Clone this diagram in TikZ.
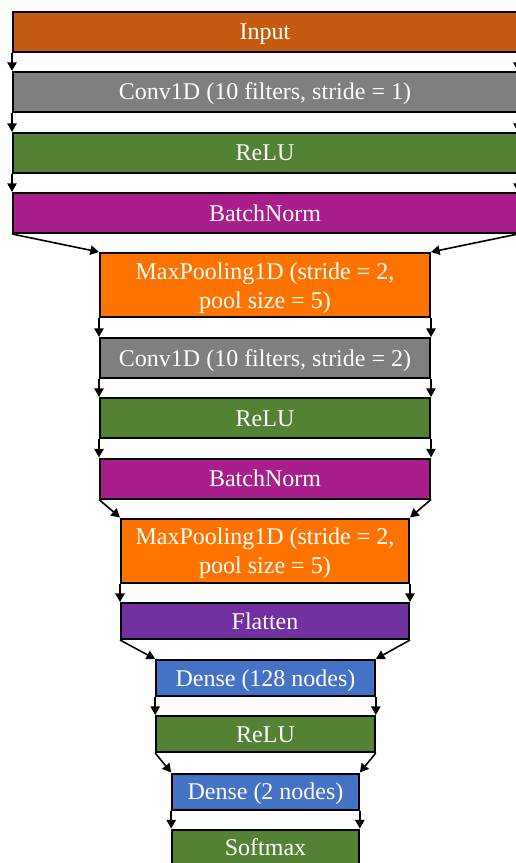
\documentclass[tikz,border=0pt]{standalone}
\usepackage{fontspec}
\setmainfont{Liberation Serif}
\usetikzlibrary{arrows.meta}
\definecolor{inputc}{HTML}{C55A11}
\definecolor{convc}{HTML}{7F7F7F}
\definecolor{reluc}{HTML}{548235}
\definecolor{bnc}{HTML}{A91E8B}
\definecolor{poolc}{HTML}{FF7300}
\definecolor{flatc}{HTML}{7030A0}
\definecolor{densec}{HTML}{4472C4}
\begin{document}
\begin{tikzpicture}[x=0.75pt,y=-0.75pt,>={Triangle[length=6.5pt,width=7pt]},
  layer/.style={draw=black,line width=1.5pt,text=white,inner sep=0pt,
    font=\fontsize{18}{21.6}\selectfont,minimum height=30pt,
    text height=16pt,text depth=4pt},
  twoline/.style={layer,align=center,minimum height=48pt,text height=38.5pt},
  link/.style={->,line width=1.2pt}]
\useasboundingbox (0,0) rectangle (515,863);

\node[layer,fill=inputc,minimum width=378pt] (in) at (265,32) {Input};
\node[layer,fill=convc,minimum width=378pt] (conv1) at (265,92) {Conv1D (10 filters, stride = 1)};
\node[layer,fill=reluc,minimum width=378pt] (relu1) at (265,153) {ReLU};
\node[layer,fill=bnc,minimum width=378pt] (bn1) at (265,213) {BatchNorm};

\node[twoline,fill=poolc,minimum width=247.5pt] (pool1) at (265,285) {MaxPooling1D (stride = 2,\\pool size = 5)};
\node[layer,fill=convc,minimum width=247.5pt] (conv2) at (265,358) {Conv1D (10 filters, stride = 2)};
\node[layer,fill=reluc,minimum width=247.5pt] (relu2) at (265,418) {ReLU};
\node[layer,fill=bnc,minimum width=247.5pt] (bn2) at (265,478.5) {BatchNorm};

\node[twoline,fill=poolc,minimum width=216pt] (pool2) at (265,550.5) {MaxPooling1D (stride = 2,\\pool size = 5)};
\node[layer,fill=flatc,minimum width=216pt,minimum height=27pt] (flat) at (265,621) {Flatten};

\node[layer,fill=densec,minimum width=164pt,minimum height=27pt] (dense1) at (265.5,678) {Dense (128 nodes)};
\node[layer,fill=reluc,minimum width=164pt,minimum height=27pt] (relu3) at (265.5,734) {ReLU};

\node[layer,fill=densec,minimum width=140pt,minimum height=27pt] (dense2) at (265.5,791.5) {Dense (2 nodes)};
\node[layer,fill=reluc,minimum width=140pt,minimum height=27pt] (soft) at (265.5,847.5) {Softmax};

% left and right edge of each layer into the next one
\foreach \a/\b in {in/conv1,conv1/relu1,relu1/bn1,bn1/pool1,pool1/conv2,conv2/relu2,relu2/bn2,
    bn2/pool2,pool2/flat,flat/dense1,dense1/relu3,relu3/dense2,dense2/soft}{
  \draw[link] (\a.south west) -- (\b.north west);
  \draw[link] (\a.south east) -- (\b.north east);
}
\end{tikzpicture}
\end{document}
